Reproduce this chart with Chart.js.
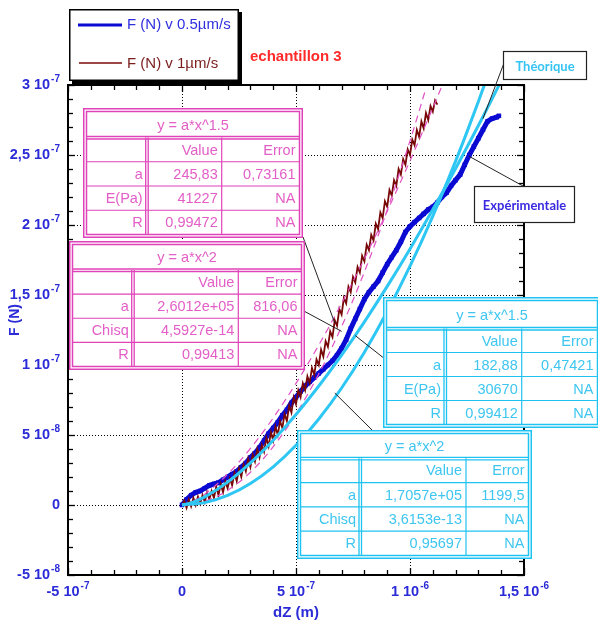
<!DOCTYPE html>
<html>
<head>
<meta charset="utf-8">
<script src="https://cdn.jsdelivr.net/npm/chart.js@4.4.1/dist/chart.umd.min.js"></script>
<style>
  html, body { margin: 0; padding: 0; background: #fff; }
  #wrap { width: 598px; height: 624px; position: relative; }
</style>
</head>
<body>
<div id="wrap"><canvas id="c" width="598" height="624"></canvas></div>
<script>
// Indentation measurements, echantillon 3.
// dZ values are in micrometres, F values in nanonewtons (converted to m / N below).

// Measured curve at 0.5 µm/s
const dzBlue = [0,0.02,0.04,0.06,0.08,0.10,0.12,0.14,0.16,0.18,0.20,0.22,0.24,0.26,0.28,0.30,0.32,0.34,0.36,0.38,
  0.40,0.42,0.44,0.46,0.48,0.50,0.52,0.54,0.56,0.58,0.60,0.62,0.64,0.66,0.68,0.70,0.72,0.74,0.76,0.78,
  0.80,0.82,0.84,0.86,0.88,0.90,0.92,0.94,0.96,0.98,1.00,1.02,1.04,1.06,1.08,1.10,1.12,1.14,1.16,1.18,
  1.20,1.22,1.24,1.26,1.28,1.30,1.32,1.34,1.36,1.38,1.39];
const fBlue = [0,4,7,9,10,12,14,15,16,18,20,22,24,27,30,34,37,41,46,51,
  55,59,64,68,73,77,81,85,88,91,94,97,100,103,107,112,118,126,133,140,
  147,152,156,160,166,172,177,182,188,195,199,202,205,208,211,213,216,220,223,228,
  232,236,243,250,256,262,268,274,276,277,278];

// Measured curve at 1 µm/s
const dzRed = [0,0.01,0.02,0.03,0.04,0.05,0.06,0.07,0.08,0.09,0.10,0.11,0.12,0.13,0.14,0.15,0.16,0.17,0.18,0.19,
  0.20,0.21,0.22,0.23,0.24,0.25,0.26,0.27,0.28,0.29,0.30,0.31,0.32,0.33,0.34,0.35,0.36,0.37,0.38,0.39,
  0.40,0.41,0.42,0.43,0.44,0.45,0.46,0.47,0.48,0.49,0.50,0.51,0.52,0.53,0.54,0.55,0.56,0.57,0.58,0.59,
  0.60,0.61,0.62,0.63,0.64,0.65,0.66,0.67,0.68,0.69,0.70,0.71,0.72,0.73,0.74,0.75,0.76,0.77,0.78,0.79,
  0.80,0.81,0.82,0.83,0.84,0.85,0.86,0.87,0.88,0.89,0.90,0.91,0.92,0.93,0.94,0.95,0.96,0.97,0.98,0.99,
  1.00,1.01,1.02,1.03,1.04,1.05,1.06,1.07,1.08,1.09,1.10,1.11,1.12];
const fRed = [0,3,-2,4,-1,5,0,6,1,7,2,9,4,10,5,13,7,15,9,17,
  12,19,14,23,17,26,20,29,24,33,27,36,31,40,34,43,38,48,42,52,
  46,56,50,60,55,65,60,71,66,77,72,82,77,87,82,92,87,98,93,104,
  100,111,106,117,113,124,120,132,128,140,136,148,144,156,152,163,159,170,166,178,
  174,186,182,193,189,201,197,209,205,217,213,225,221,232,228,240,236,247,243,254,
  250,261,257,268,263,274,269,280,275,285,281,289,286];

// Fit y = a*x^1.5 on the 0.5 µm/s curve (a = 182,88)
const dzFitB15 = [0,0.05,0.1,0.2,0.3,0.4,0.5,0.6,0.7,0.8,0.9,1.0,1.1,1.2,1.3,1.35,1.39];
const fFitB15 = [0,2.04,5.78,16.36,30.05,46.27,64.66,85.0,107.1,130.86,156.15,182.88,210.99,240.4,271.07,286.9,299.7];
// Fit y = a*x^2 on the 0.5 µm/s curve (a = 1,7057e+05)
const dzFitB2 = [0,0.1,0.2,0.3,0.4,0.5,0.6,0.7,0.8,0.9,1.0,1.1,1.2,1.25,1.3,1.326];
const fFitB2 = [0,1.71,6.82,15.35,27.29,42.64,61.41,83.58,109.16,138.16,170.57,206.39,245.62,266.5,288.26,299.9];
// Fit y = a*x^1.5 on the 1 µm/s curve (a = 245,83)
const dzFitR15 = [0,0.05,0.1,0.2,0.3,0.4,0.5,0.6,0.7,0.8,0.9,1.0,1.05,1.1,1.139];
const fFitR15 = [0,2.75,7.77,21.99,40.39,62.19,86.91,114.25,143.97,175.9,209.89,245.83,264.5,283.61,298.8];
// Fit y = a*x^2 on the 1 µm/s curve (a = 2,6012e+05)
const dzFitR2 = [0,0.1,0.2,0.3,0.4,0.5,0.6,0.7,0.8,0.9,1.0,1.05,1.07];
const fFitR2 = [0,2.60,10.40,23.41,41.62,65.03,93.64,127.46,166.48,210.70,260.12,286.8,297.8];

// Axis ticks
const xTickValues = [-5e-7, 0, 5e-7, 1e-6, 1.5e-6];
const xTickText = ['-5 10', '0', '5 10', '1 10', '1,5 10'];
const xTickExp = ['-7', '', '-7', '-6', '-6'];
const yTickValues = [-5e-8, 0, 5e-8, 1e-7, 1.5e-7, 2e-7, 2.5e-7, 3e-7];
const yTickText = ['-5 10', '0', '5 10', '1 10', '1,5 10', '2 10', '2,5 10', '3 10'];
const yTickExp = ['-8', '', '-8', '-7', '-7', '-7', '-7', '-7'];

// Fit result tables
const tableR15Title = 'y = a*x^1.5';
const tableR15Rows = [['', 'Value', 'Error'], ['a', '245,83', '0,73161'], ['E(Pa)', '41227', 'NA'], ['R', '0,99472', 'NA']];
const tableR2Title = 'y = a*x^2';
const tableR2Rows = [['', 'Value', 'Error'], ['a', '2,6012e+05', '816,06'], ['Chisq', '4,5927e-14', 'NA'], ['R', '0,99413', 'NA']];
const tableB15Title = 'y = a*x^1.5';
const tableB15Rows = [['', 'Value', 'Error'], ['a', '182,88', '0,47421'], ['E(Pa)', '30670', 'NA'], ['R', '0,99412', 'NA']];
const tableB2Title = 'y = a*x^2';
const tableB2Rows = [['', 'Value', 'Error'], ['a', '1,7057e+05', '1199,5'], ['Chisq', '3,6153e-13', 'NA'], ['R', '0,95697', 'NA']];

const legendLabels = ['F (N) v 0.5µm/s', 'F (N) v 1µm/s'];
const sampleName = 'echantillon 3';
const xTitle = 'dZ (m)';
const yTitle = 'F (N)';
const labelTheory = 'Théorique';
const labelExp = 'Expérimentale';

const UM = 1e-6, NN = 1e-9;
function pts(dz, f) { return dz.map((x, i) => ({ x: x * UM, y: f[i] * NN })); }

const FONT = '"Liberation Sans", Arial, sans-serif';
const AXIS_BLUE = '#2b2bd8';
const PINK = '#e043b9', PINK_TXT = '#e35ec6';
const CYAN = '#1fc3f2', CYAN_TXT = '#3ec6f0';

function supLabel(ctx, base, exp, x, y, align) {
  ctx.font = 'bold 14.5px ' + FONT;
  const bw = ctx.measureText(base).width;
  ctx.font = 'bold 10px ' + FONT;
  const ew = exp ? ctx.measureText(exp).width + 1 : 0;
  const x0 = align === 'right' ? x - bw - ew : x - (bw + ew) / 2;
  ctx.textAlign = 'left';
  ctx.textBaseline = 'middle';
  ctx.font = 'bold 14.5px ' + FONT;
  ctx.fillText(base, x0, y);
  if (exp) {
    ctx.font = 'bold 10px ' + FONT;
    ctx.fillText(exp, x0 + bw + 1, y - 6);
  }
}

function hline(ctx, x0, x1, y) { ctx.beginPath(); ctx.moveTo(x0, y); ctx.lineTo(x1, y); ctx.stroke(); }
function vline(ctx, x, y0, y1) { ctx.beginPath(); ctx.moveTo(x, y0); ctx.lineTo(x, y1); ctx.stroke(); }

function drawTable(ctx, title, rows, L, stroke, ink) {
  const [x0, y0, x1, y1] = L.box;
  ctx.save();
  ctx.setLineDash([]);
  ctx.fillStyle = '#fff';
  ctx.fillRect(x0, y0, x1 - x0, y1 - y0);
  ctx.strokeStyle = stroke;
  ctx.lineWidth = 1.5;
  ctx.strokeRect(x0 + 0.75, y0 + 0.75, x1 - x0 - 1.5, y1 - y0 - 1.5);
  const ix0 = x0 + 3.5, iy0 = y0 + 3.5, ix1 = x1 - 3.5, iy1 = y1 - 3.5;
  ctx.strokeRect(ix0, iy0, ix1 - ix0, iy1 - iy0);
  const rowH = (iy1 - L.head) / rows.length;
  // header separator (double)
  ctx.lineWidth = 1.3;
  hline(ctx, ix0, ix1, L.head - 1);
  hline(ctx, ix0, ix1, L.head + 1.5);
  ctx.lineWidth = 1.2;
  for (let r = 1; r < rows.length; r++) hline(ctx, ix0, ix1, L.head + rowH * r);
  // first column separator (double), second single
  ctx.lineWidth = 1.3;
  vline(ctx, L.cols[0] - 1, L.head, iy1);
  vline(ctx, L.cols[0] + 1.5, L.head, iy1);
  ctx.lineWidth = 1.2;
  vline(ctx, L.cols[1], L.head, iy1);
  ctx.fillStyle = ink;
  ctx.textBaseline = 'middle';
  ctx.font = '14.5px ' + FONT;
  ctx.textAlign = 'center';
  ctx.fillText(title, (ix0 + ix1) / 2, (iy0 + L.head) / 2 + 1);
  ctx.textAlign = 'right';
  const rights = [L.cols[0] - 4, L.cols[1] - 4, ix1 - 4];
  rows.forEach((row, r) => {
    const cy = L.head + rowH * (r + 0.5) + 1;
    row.forEach((txt, c) => { if (txt) ctx.fillText(txt, rights[c], cy); });
  });
  ctx.restore();
}

function labelBox(ctx, box, text, color) {
  const [x0, y0, x1, y1] = box;
  ctx.fillStyle = '#fff';
  ctx.fillRect(x0, y0, x1 - x0, y1 - y0);
  ctx.strokeStyle = '#222';
  ctx.lineWidth = 1.2;
  ctx.setLineDash([]);
  ctx.strokeRect(x0 + 0.5, y0 + 0.5, x1 - x0 - 1, y1 - y0 - 1);
  ctx.fillStyle = color;
  ctx.font = 'bold 13px Lato, "Open Sans", sans-serif';
  ctx.textAlign = 'center';
  ctx.textBaseline = 'middle';
  ctx.fillText(text, (x0 + x1) / 2, (y0 + y1) / 2 + 1);
}

const decorations = {
  id: 'decorations',
  beforeDatasetsDraw(chart) {
    const { ctx, chartArea: a, scales: { x, y } } = chart;
    ctx.save();
    ctx.strokeStyle = '#000';
    ctx.lineWidth = 1;
    ctx.setLineDash([1, 2]);
    xTickValues.forEach(v => {
      const px = Math.round(x.getPixelForValue(v)) + 0.5;
      if (px > a.left + 2 && px < a.right - 2) vline(ctx, px, a.top, a.bottom);
    });
    yTickValues.forEach(v => {
      const py = Math.round(y.getPixelForValue(v)) + 0.5;
      if (py > a.top + 2 && py < a.bottom - 2) hline(ctx, a.left, a.right, py);
    });
    ctx.restore();
  },
  afterDatasetsDraw(chart) {
    const { ctx, chartArea: a, scales: { x, y } } = chart;
    ctx.save();
    ctx.setLineDash([]);
    // frame
    ctx.strokeStyle = '#000';
    ctx.lineWidth = 2;
    ctx.strokeRect(a.left, a.top, a.right - a.left, a.bottom - a.top);
    // inward ticks on all four sides
    ctx.lineWidth = 1.3;
    for (let k = -5; k <= 15; k++) {
      const px = Math.round(x.getPixelForValue(k * 1e-7)) + 0.5;
      const len = (k % 5 === 0) ? 7 : 5;
      vline(ctx, px, a.bottom, a.bottom - len);
      vline(ctx, px, a.top, a.top + len);
    }
    for (let k = -5; k <= 30; k++) {
      const py = Math.round(y.getPixelForValue(k * 1e-8)) + 0.5;
      const len = (k % 5 === 0) ? 7 : 5;
      hline(ctx, a.left, a.left + len, py);
      hline(ctx, a.right, a.right - len, py);
    }
    // tick labels
    ctx.fillStyle = AXIS_BLUE;
    xTickValues.forEach((v, i) => supLabel(ctx, xTickText[i], xTickExp[i], x.getPixelForValue(v), a.bottom + 17, 'center'));
    yTickValues.forEach((v, i) => supLabel(ctx, yTickText[i], yTickExp[i], a.left - 8, y.getPixelForValue(v), 'right'));
    // axis titles
    ctx.font = 'bold 15px ' + FONT;
    ctx.textAlign = 'center';
    ctx.textBaseline = 'middle';
    ctx.fillText(xTitle, (a.left + a.right) / 2, a.bottom + 38);
    ctx.save();
    ctx.translate(15, 320);
    ctx.rotate(-Math.PI / 2);
    ctx.font = 'bold 14px ' + FONT;
    ctx.fillText(yTitle, 0, 0);
    ctx.restore();

    // pointer lines from the tables / labels to the curves
    const P = (dz, f) => [x.getPixelForValue(dz * UM), y.getPixelForValue(f * NN)];
    const pointers = [
      [[303, 237], P(0.67, 130)],
      [[302, 310], P(0.70, 124)],
      [[385, 359], P(0.76, 121)],
      [[373, 431], P(0.67, 80)],
      [[504, 63], P(1.32, 276)],
      [[523, 186], P(1.26, 249)]
    ];
    ctx.strokeStyle = '#222';
    ctx.lineWidth = 1;
    pointers.forEach(([p, q]) => { ctx.beginPath(); ctx.moveTo(p[0], p[1]); ctx.lineTo(q[0], q[1]); ctx.stroke(); });

    // fit tables
    drawTable(ctx, tableR15Title, tableR15Rows, { box: [83, 108, 303, 238], head: 137.5, cols: [146.7, 221.7] }, PINK, PINK_TXT);
    drawTable(ctx, tableR2Title, tableR2Rows, { box: [69, 241, 305, 370], head: 270, cols: [132.7, 238.3] }, PINK, PINK_TXT);
    drawTable(ctx, tableB15Title, tableB15Rows, { box: [383, 297, 601, 428], head: 328.5, cols: [445, 521.7] }, CYAN, CYAN_TXT);
    drawTable(ctx, tableB2Title, tableB2Rows, { box: [297, 430, 532, 559], head: 458.3, cols: [360, 466] }, CYAN, CYAN_TXT);

    // curve labels
    labelBox(ctx, [503, 51, 587, 80], labelTheory, '#35c4f3');
    labelBox(ctx, [474, 186, 575, 223], labelExp, '#3a2be0');

    // legend with drop shadow
    ctx.fillStyle = '#000';
    ctx.fillRect(72, 12, 170, 72);
    ctx.fillStyle = '#fff';
    ctx.fillRect(69, 9, 170, 72);
    ctx.strokeStyle = '#000';
    ctx.lineWidth = 1.5;
    ctx.strokeRect(69.75, 9.75, 168.5, 70.5);
    ctx.strokeStyle = '#0a0ad2';
    ctx.lineWidth = 3;
    hline(ctx, 78, 122, 25);
    ctx.strokeStyle = '#7d0a0a';
    ctx.lineWidth = 1.5;
    hline(ctx, 79, 122, 63);
    ctx.font = '15px ' + FONT;
    ctx.textAlign = 'left';
    ctx.textBaseline = 'middle';
    ctx.fillStyle = '#2f2fe0';
    ctx.fillText(legendLabels[0], 127, 25);
    ctx.fillStyle = '#7a1c1c';
    ctx.fillText(legendLabels[1], 127, 64);

    // sample name
    ctx.font = 'bold 15px ' + FONT;
    ctx.fillStyle = '#ff2a2a';
    ctx.fillText(sampleName, 250, 57);
    ctx.restore();
  }
};

new Chart(document.getElementById('c'), {
  type: 'line',
  data: {
    datasets: [
      { label: 'fit x^1.5 (0.5µm/s)', data: pts(dzFitB15, fFitB15), borderColor: '#2ec6f3', borderWidth: 3,
        pointRadius: 0, cubicInterpolationMode: 'monotone', order: 0 },
      { label: 'fit x^2 (0.5µm/s)', data: pts(dzFitB2, fFitB2), borderColor: '#2ec6f3', borderWidth: 3,
        pointRadius: 0, cubicInterpolationMode: 'monotone', order: 0 },
      { label: 'fit x^1.5 (1µm/s)', data: pts(dzFitR15, fFitR15), borderColor: '#e250c4', borderWidth: 1.2,
        borderDash: [7, 5], pointRadius: 0, cubicInterpolationMode: 'monotone', order: 1 },
      { label: 'fit x^2 (1µm/s)', data: pts(dzFitR2, fFitR2), borderColor: '#e250c4', borderWidth: 1.2,
        borderDash: [7, 5], pointRadius: 0, cubicInterpolationMode: 'monotone', order: 1 },
      { label: legendLabels[1], data: pts(dzRed, fRed), borderColor: '#780808', borderWidth: 1.8,
        pointRadius: 0, tension: 0, order: 2 },
      { label: legendLabels[0], data: pts(dzBlue, fBlue), borderColor: '#0a0ad2', borderWidth: 5,
        pointStyle: 'rect', pointRadius: 3.2, pointBorderWidth: 0, pointBackgroundColor: '#0a0ad2',
        tension: 0, order: 3 }
    ]
  },
  options: {
    responsive: false,
    animation: false,
    events: [],
    layout: { padding: { left: 68, right: 74, top: 85, bottom: 49 } },
    plugins: { legend: { display: false }, tooltip: { enabled: false } },
    scales: {
      x: { type: 'linear', display: false, min: -5e-7, max: 1.5e-6 },
      y: { type: 'linear', display: false, min: -5e-8, max: 3e-7 }
    }
  },
  plugins: [decorations]
});
</script>
</body>
</html>
